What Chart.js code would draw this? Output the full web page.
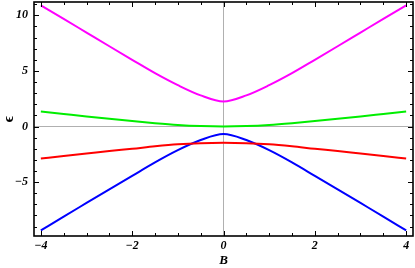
<!DOCTYPE html>
<html>
<head>
<meta charset="utf-8">
<script src="https://cdn.jsdelivr.net/npm/chart.js@4/dist/chart.umd.min.js"></script>
<style>
html,body{margin:0;padding:0;background:#fff;}
#wrap{width:415px;height:268px;position:relative;}
</style>
</head>
<body>
<div id="wrap"><canvas id="c"></canvas></div>
<script>
const bValues = [-4,-3.5,-3,-2.5,-2,-1.5,-1,-0.5,0,0.5,1,1.5,2,2.5,3,3.5,4];
const magentaLevel = [10.9,9.68,8.45,7.22,6.0,4.8,3.72,2.8,2.25,2.8,3.72,4.8,6.0,7.22,8.45,9.68,10.9];
const greenLevel = [1.35,1.13,0.91,0.7,0.49,0.3,0.14,0.04,0,0.04,0.14,0.3,0.49,0.7,0.91,1.13,1.35];
const redLevel = [-2.88,-2.65,-2.43,-2.2,-2.0,-1.78,-1.6,-1.5,-1.47,-1.5,-1.6,-1.78,-2.0,-2.2,-2.43,-2.65,-2.88];
const blueLevel = [-9.35,-8.1,-6.88,-5.66,-4.44,-3.23,-2.13,-1.22,-0.68,-1.22,-2.13,-3.23,-4.44,-5.66,-6.88,-8.1,-9.35];
const xTicks = [-4,-2,0,2,4];
const yTicks = [-5,0,5,10];
const xMinorStep = 0.5;
const yMinorStep = 1;

const toPts = arr => bValues.map((b,i)=>({x:b,y:arr[i]}));
const tickFont = {family:'"Liberation Serif", "DejaVu Serif", serif', size:12, style:'italic', weight:'bold'};
const fmt = v => (v<0 ? '\u2212'+Math.abs(v) : String(v));

const framePlugin = {
  id:'frame',
  afterDatasetsDraw(chart){
    const {ctx, chartArea:a, scales:{x,y}} = chart;
    ctx.save();
    ctx.strokeStyle = '#000';
    ctx.lineWidth = 1;
    const xmin = Math.ceil(x.min/xMinorStep)*xMinorStep;
    for(let v=xmin; v<=x.max+1e-9; v+=xMinorStep){
      const major = xTicks.some(t=>Math.abs(t-v)<1e-9);
      const len = major?5:3;
      const px = Math.round(x.getPixelForValue(v))+0.5;
      ctx.beginPath();
      ctx.moveTo(px,a.bottom); ctx.lineTo(px,a.bottom-len);
      ctx.moveTo(px,a.top); ctx.lineTo(px,a.top+len);
      ctx.stroke();
    }
    const ymin = Math.ceil(y.min/yMinorStep)*yMinorStep;
    for(let v=ymin; v<=y.max+1e-9; v+=yMinorStep){
      const major = yTicks.some(t=>Math.abs(t-v)<1e-9);
      const len = major?5:3;
      const py = Math.round(y.getPixelForValue(v))+0.5;
      ctx.beginPath();
      ctx.moveTo(a.left,py); ctx.lineTo(a.left+len,py);
      ctx.moveTo(a.right,py); ctx.lineTo(a.right-len,py);
      ctx.stroke();
    }
    ctx.lineWidth = 1.6;
    ctx.strokeRect(a.left, a.top, a.right-a.left, a.bottom-a.top);
    ctx.restore();
  }
};

const ds = (arr,color) => ({
  data: toPts(arr),
  borderColor: color,
  borderWidth: 2,
  pointRadius: 0,
  fill: false,
  cubicInterpolationMode: 'monotone'
});

new Chart(document.getElementById('c'), {
  type:'line',
  data:{
    datasets:[
      ds(magentaLevel,'#ff00ff'),
      ds(greenLevel,'#00ee00'),
      ds(redLevel,'#ff0000'),
      ds(blueLevel,'#0000ff')
    ]
  },
  options:{
    responsive:true,
    maintainAspectRatio:false,
    animation:false,
    layout:{padding:{top:2,right:2,left:0,bottom:0}},
    plugins:{legend:{display:false},tooltip:{enabled:false}},
    scales:{
      x:{
        type:'linear', min:-4.15, max:4.15,
        afterBuildTicks(s){ s.ticks = xTicks.map(v=>({value:v})); },
        afterFit(s){ s.height = 32; s.paddingLeft = 0; s.paddingRight = 0; },
        border:{display:false},
        grid:{drawTicks:false, lineWidth:1, color:c=> (c.tick && c.tick.value===0) ? '#b0b0b0' : 'rgba(0,0,0,0)'},
        ticks:{font:tickFont, color:'#000', padding:3, maxRotation:0, callback:v=>fmt(v)},
        title:{display:true, text:'B', font:{family:'"Liberation Serif", serif', size:13, style:'italic', weight:'bold'}, color:'#000', padding:{top:0,bottom:0}}
      },
      y:{
        type:'linear', min:-9.85, max:11.2,
        afterBuildTicks(s){ s.ticks = yTicks.map(v=>({value:v})); },
        afterFit(s){ s.width = 34; s.paddingTop = 0; s.paddingBottom = 0; },
        border:{display:false},
        grid:{drawTicks:false, lineWidth:1, color:c=> (c.tick && c.tick.value===0) ? '#b0b0b0' : 'rgba(0,0,0,0)'},
        ticks:{font:tickFont, color:'#000', padding:6, callback:v=>fmt(v)},
        title:{display:true, text:'\u03f5', font:{family:'"Liberation Serif", serif', size:15, weight:'bold'}, color:'#000', padding:{top:0,bottom:3}}
      }
    }
  },
  plugins:[framePlugin]
});
</script>
</body>
</html>
